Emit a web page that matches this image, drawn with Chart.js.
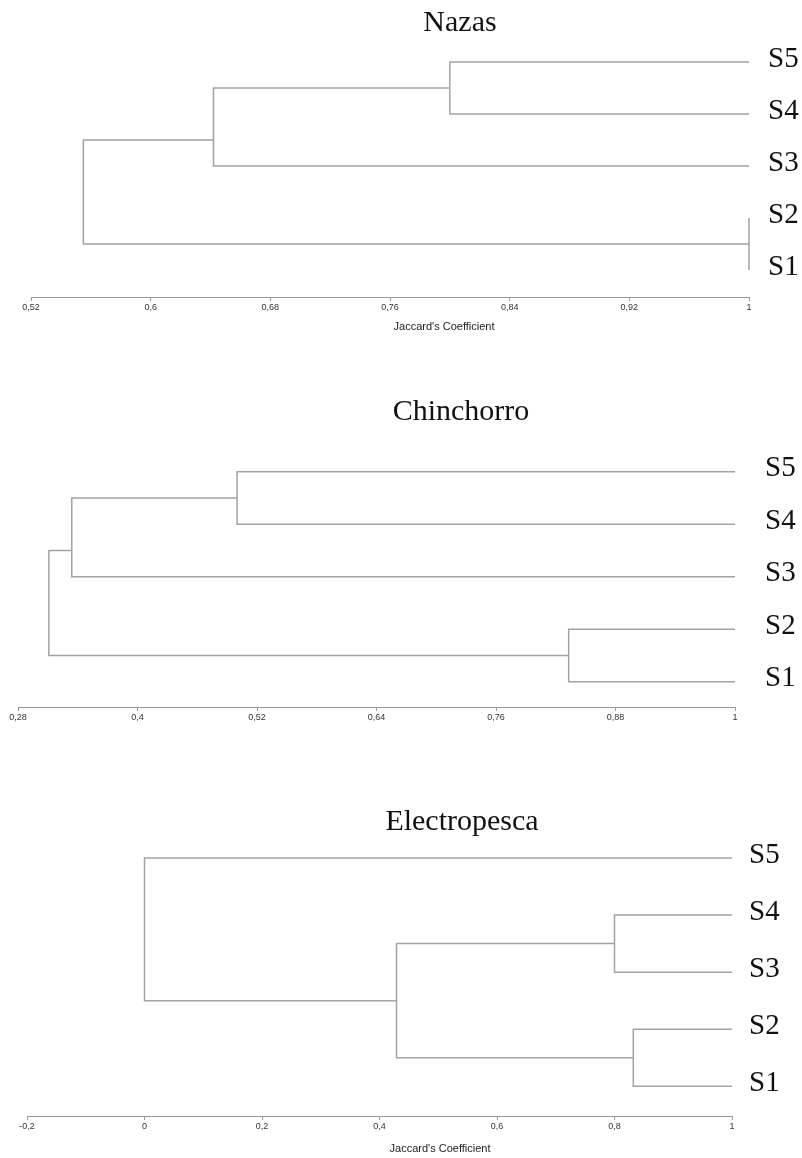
<!DOCTYPE html>
<html>
<head>
<meta charset="utf-8">
<script src="https://cdn.jsdelivr.net/npm/chart.js"></script>
<style>
  body { margin: 0; background: #fff; }
  .panel { position: absolute; left: 0; width: 802px; }
</style>
</head>
<body>
<div class="panel" style="top:0;height:345px"><canvas id="nazas"></canvas></div>
<div class="panel" style="top:380px;height:360px"><canvas id="chinchorro"></canvas></div>
<div class="panel" style="top:790px;height:368px"><canvas id="electropesca"></canvas></div>
<script>
// leaves sit on y = 1..5 (S1 at the bottom, S5 on top), joins are n1..n4 in order
const leafNames = ['S1', 'S2', 'S3', 'S4', 'S5']

// Nazas
const nazasTicks = [0.52, 0.6, 0.68, 0.76, 0.84, 0.92, 1]
const nazasUpper = ['S2', 'S5', 'n2', 'n3']
const nazasLower = ['S1', 'S4', 'S3', 'n1']
const nazasLevel = [1.0, 0.80, 0.642, 0.555]
const nazasNodeY = [1.5, 4.5, 3.5, 2.5]

// Chinchorro
const chinTicks = [0.28, 0.4, 0.52, 0.64, 0.76, 0.88, 1]
const chinUpper = ['S2', 'S5', 'n2', 'n3']
const chinLower = ['S1', 'S4', 'S3', 'n1']
const chinLevel = [0.833, 0.50, 0.334, 0.311]
const chinNodeY = [1.5, 4.5, 3.5, 2.5]

// Electropesca
const elecTicks = [-0.2, 0, 0.2, 0.4, 0.6, 0.8, 1]
const elecUpper = ['S4', 'S2', 'n1', 'S5']
const elecLower = ['S3', 'S1', 'n2', 'n3']
const elecLevel = [0.80, 0.832, 0.429, 0.0]
const elecNodeY = [3.5, 1.5, 2.5, 3.75]

const LINE = '#a3a3a3'

// titles, leaf names and axis caption
const panelText = {
  id: 'panelText',
  afterDraw(chart, args, opts) {
    const {ctx, chartArea, scales} = chart
    ctx.save()
    ctx.fillStyle = '#111'
    ctx.textBaseline = 'middle'
    ctx.textAlign = 'center'
    ctx.font = '30px "Liberation Serif"'
    ctx.fillText(opts.title, opts.titleX, opts.titleY)
    ctx.textAlign = 'left'
    ctx.font = '29px "Liberation Serif"'
    leafNames.forEach((name, i) => {
      ctx.fillText(name, chartArea.right + opts.labelGap, scales.y.getPixelForValue(i + 1) - 3)
    })
    if (opts.xLabel) {
      ctx.textAlign = 'center'
      ctx.font = '11px "Liberation Sans"'
      ctx.fillStyle = '#222'
      ctx.fillText(opts.xLabel, opts.xLabelX, opts.xLabelY)
    }
    ctx.restore()
  }
}

function buildLinks(upper, lower, level, nodeY) {
  function pos(name) {
    if (name[0] === 'S') return {x: 1, y: leafNames.indexOf(name) + 1}
    const k = Number(name.slice(1)) - 1
    return {x: level[k], y: nodeY[k]}
  }
  return level.map((h, i) => {
    const a = pos(upper[i])
    const b = pos(lower[i])
    return {
      data: [{x: a.x, y: a.y}, {x: h, y: a.y}, {x: h, y: b.y}, {x: b.x, y: b.y}],
      showLine: true,
      borderColor: LINE,
      borderWidth: 1.5,
      pointRadius: 0,
      fill: false,
      clip: false
    }
  })
}

function dendrogram(id, cfg) {
  new Chart(document.getElementById(id), {
    type: 'scatter',
    data: {datasets: buildLinks(cfg.upper, cfg.lower, cfg.level, cfg.nodeY)},
    options: {
      responsive: true,
      maintainAspectRatio: false,
      animation: false,
      layout: {padding: cfg.padding},
      scales: {
        x: {
          type: 'linear',
          min: cfg.ticks[0],
          max: cfg.ticks[cfg.ticks.length - 1],
          afterBuildTicks: s => { s.ticks = cfg.ticks.map(v => ({value: v})) },
          afterFit: s => { s.height = 20 },
          ticks: {
            callback: v => String(v).replace('.', ','),
            font: {family: 'Liberation Sans', size: 9},
            color: '#333',
            padding: 1,
            maxRotation: 0,
            autoSkip: false
          },
          grid: {drawOnChartArea: false, tickLength: 4, color: '#999'},
          border: {color: '#999', width: 1}
        },
        y: {display: false, min: cfg.yMin, max: cfg.yMax}
      },
      plugins: {
        legend: {display: false},
        tooltip: {enabled: false},
        panelText: cfg.text
      }
    },
    plugins: [panelText]
  })
}

dendrogram('nazas', {
  upper: nazasUpper, lower: nazasLower, level: nazasLevel, nodeY: nazasNodeY,
  ticks: nazasTicks, yMin: 0.48, yMax: 5.48,
  padding: {top: 37, left: 31, right: 53, bottom: 28},
  text: {title: 'Nazas', titleX: 460, titleY: 23, labelGap: 19,
         xLabel: "Jaccard's Coefficient", xLabelX: 444, xLabelY: 327}
})

dendrogram('chinchorro', {
  upper: chinUpper, lower: chinLower, level: chinLevel, nodeY: chinNodeY,
  ticks: chinTicks, yMin: 0.52, yMax: 5.51,
  padding: {top: 65, left: 18, right: 67, bottom: 13},
  text: {title: 'Chinchorro', titleX: 461, titleY: 32, labelGap: 30}
})

dendrogram('electropesca', {
  upper: elecUpper, lower: elecLower, level: elecLevel, nodeY: elecNodeY,
  ticks: elecTicks, yMin: 0.48, yMax: 5.49,
  padding: {top: 40, left: 27, right: 70, bottom: 22},
  text: {title: 'Electropesca', titleX: 462, titleY: 32, labelGap: 17,
         xLabel: "Jaccard's Coefficient", xLabelX: 440, xLabelY: 359}
})
</script>
</body>
</html>
